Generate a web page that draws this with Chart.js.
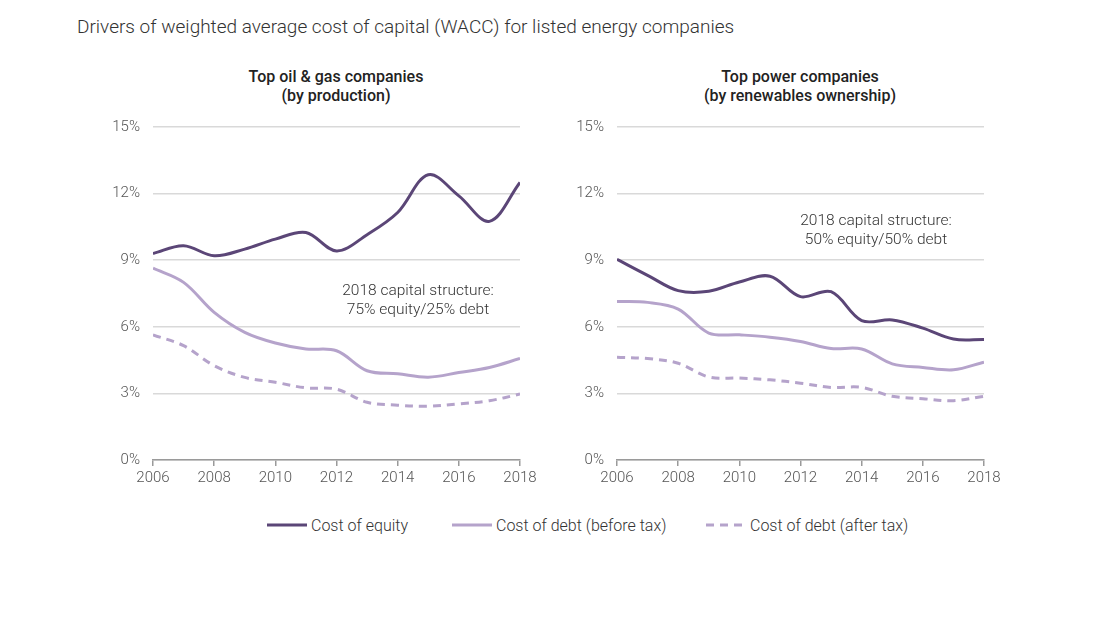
<!DOCTYPE html>
<html>
<head>
<meta charset="utf-8">
<script src="https://cdn.jsdelivr.net/npm/chart.js@4.4.1/dist/chart.umd.min.js"></script>
<style>
  body { margin: 0; background: #fff; font-family: Roboto, sans-serif; color: #333; }
  #page { position: relative; width: 1100px; height: 619px; }
  .title { position: absolute; left: 77px; top: 15px; font-size: 19px; font-weight: 300; color: #333; white-space: nowrap; }
  .sub { position: absolute; top: 67px; width: 300px; text-align: center; font-size: 16px; font-weight: 500; line-height: 19px; color: #222; }
  .note { position: absolute; width: 260px; text-align: center; font-size: 15.5px; font-weight: 300; line-height: 19px; color: #333; }
  .box { position: absolute; top: 105px; width: 450px; height: 390px; }
  .legend { position: absolute; top: 515px; font-size: 16px; font-weight: 300; color: #333; display: flex; align-items: center; white-space: nowrap; }
  .legend svg { margin-right: 4px; }
</style>
</head>
<body>
<div id="page">
  <div class="title">Drivers of weighted average cost of capital (WACC) for listed energy companies</div>

  <div class="sub" style="left:186px">Top oil &amp; gas companies<br>(by production)</div>
  <div class="sub" style="left:650px">Top power companies<br>(by renewables ownership)</div>

  <div class="box" style="left:90px"><canvas id="oilChart"></canvas></div>
  <div class="box" style="left:554px"><canvas id="powerChart"></canvas></div>

  <div class="note" style="left:288px; top:281px">2018 capital structure:<br>75% equity/25% debt</div>
  <div class="note" style="left:746px; top:211px">2018 capital structure:<br>50% equity/50% debt</div>

  <div id="legend"></div>
</div>

<script>
// años del eje x
const years = [2006, 2007, 2008, 2009, 2010, 2011, 2012, 2013, 2014, 2015, 2016, 2017, 2018];
const seriesNames = ['Cost of equity', 'Cost of debt (before tax)', 'Cost of debt (after tax)'];

// Top oil & gas (%)
const oilEquity   = [9.3, 9.65, 9.2, 9.5, 9.95, 10.25, 9.42, 10.15, 11.15, 12.85, 11.9, 10.75, 12.5];
const oilDebtPre  = [8.64, 8.0, 6.65, 5.75, 5.27, 5.0, 4.92, 4.02, 3.88, 3.73, 3.94, 4.17, 4.57];
const oilDebtPost = [5.64, 5.15, 4.25, 3.72, 3.5, 3.25, 3.19, 2.6, 2.47, 2.42, 2.53, 2.67, 2.97];

// Top power (%)
const powerEquity   = [9.04, 8.32, 7.63, 7.6, 8.02, 8.28, 7.36, 7.58, 6.28, 6.31, 5.94, 5.45, 5.43];
const powerDebtPre  = [7.14, 7.1, 6.8, 5.72, 5.64, 5.53, 5.34, 5.02, 5.0, 4.33, 4.17, 4.06, 4.41];
const powerDebtPost = [4.63, 4.57, 4.36, 3.74, 3.69, 3.61, 3.46, 3.27, 3.27, 2.87, 2.76, 2.67, 2.87];

const colors = ['#5b4677', '#b5a3cb', '#b5a3cb'];
const dashes = [[], [], [8, 6]];

Chart.defaults.font.family = 'Roboto, sans-serif';
Chart.defaults.font.size = 15;
Chart.defaults.font.weight = 300;
Chart.defaults.color = '#555';

function toPoints(values) {
  return values.map((v, i) => ({ x: years[i], y: v }));
}

function makeChart(id, seriesList) {
  const datasets = seriesList.map((values, i) => ({
    label: seriesNames[i],
    data: toPoints(values),
    borderColor: colors[i],
    borderWidth: 3,
    borderDash: dashes[i],
    pointRadius: 0,
    tension: 0.35,
    fill: false
  }));

  new Chart(document.getElementById(id), {
    type: 'line',
    data: { datasets: datasets },
    options: {
      responsive: false,
      animation: false,
      layout: { padding: { top: 3, right: 20, left: 0, bottom: 0 } },
      plugins: { legend: { display: false }, tooltip: { enabled: false } },
      scales: {
        x: {
          type: 'linear',
          min: 2006,
          max: 2018,
          border: { display: true, color: '#9a9a9a', width: 1.5 },
          grid: { drawOnChartArea: false, drawTicks: true, tickLength: 6, color: '#9a9a9a', lineWidth: 1.5 },
          ticks: { stepSize: 2, padding: 3, maxRotation: 0, callback: v => String(v) },
          afterFit: s => { s.height = 35; }
        },
        y: {
          min: 0,
          max: 15,
          border: { display: false },
          grid: { drawTicks: false, color: '#d9d9d9', lineWidth: 1.5 },
          ticks: { stepSize: 3, padding: 13, callback: v => v + '%' },
          afterFit: s => { s.width = 63; }
        }
      }
    }
  });
}

function sizeCanvas(id) {
  const c = document.getElementById(id);
  c.width = 450; c.height = 390;
  c.style.width = '450px'; c.style.height = '390px';
}
sizeCanvas('oilChart');
sizeCanvas('powerChart');

makeChart('oilChart', [oilEquity, oilDebtPre, oilDebtPost]);
makeChart('powerChart', [powerEquity, powerDebtPre, powerDebtPost]);

// leyenda en HTML
const legendPos = [267, 452, 706];
const legendEl = document.getElementById('legend');
seriesNames.forEach((name, i) => {
  const item = document.createElement('div');
  item.className = 'legend';
  item.style.left = legendPos[i] + 'px';
  const dash = dashes[i].length ? ' stroke-dasharray="' + dashes[i].join(' ') + '"' : '';
  item.innerHTML = '<svg width="40" height="20"><line x1="0" y1="10" x2="40" y2="10" stroke="' +
    colors[i] + '" stroke-width="3"' + dash + '/></svg>' + name;
  legendEl.appendChild(item);
});
</script>
</body>
</html>
